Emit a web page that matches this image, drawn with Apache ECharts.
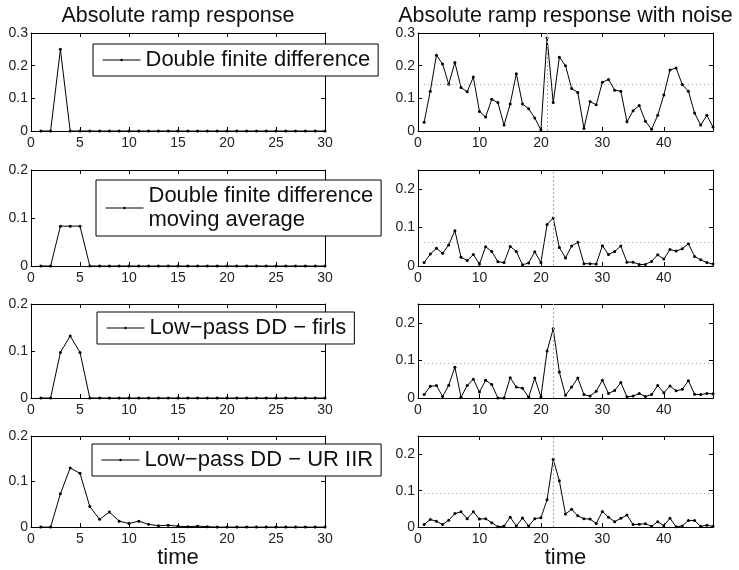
<!DOCTYPE html>
<html>
<head>
<meta charset="utf-8">
<script src="https://cdn.jsdelivr.net/npm/echarts@6/dist/echarts.min.js"></script>
<style>
  html, body { margin: 0; padding: 0; background: #fff; }
  #main { width: 739px; height: 570px; }
</style>
</head>
<body>
<div id="main"></div>
<script>
const FONT = '"Liberation Sans", Arial, sans-serif';

// clean ramp responses, time = 1..30
const ddClean = [0, 0, 0.25, 0, 0, 0, 0, 0, 0, 0, 0, 0, 0, 0, 0, 0, 0, 0, 0, 0, 0, 0, 0, 0, 0, 0, 0, 0, 0, 0];
const ddMaClean = [0, 0, 0.083, 0.083, 0.083, 0, 0, 0, 0, 0, 0, 0, 0, 0, 0, 0, 0, 0, 0, 0, 0, 0, 0, 0, 0, 0, 0, 0, 0, 0];
const firlsClean = [0, 0, 0.097, 0.132, 0.097, 0, 0, 0, 0, 0, 0, 0, 0, 0, 0, 0, 0, 0, 0, 0, 0, 0, 0, 0, 0, 0, 0, 0, 0, 0];
const iirClean = [0, 0, 0.073, 0.13, 0.118, 0.045, 0.017, 0.033, 0.013, 0.008, 0.013, 0.006, 0.003, 0.004, 0.002, 0.001, 0.002, 0.001, 0, 0, 0, 0, 0, 0, 0, 0, 0, 0, 0, 0];

// ramp responses with noise, time = 1..48
const ddNoise = [0.027, 0.122, 0.232, 0.205, 0.143, 0.21, 0.133, 0.12, 0.165, 0.06,
  0.043, 0.097, 0.087, 0.018, 0.083, 0.175, 0.083, 0.068, 0.04, 0.003,
  0.285, 0.087, 0.226, 0.2, 0.13, 0.118, 0.008, 0.09, 0.08, 0.149,
  0.158, 0.125, 0.122, 0.028, 0.062, 0.078, 0.03, 0.005, 0.048, 0.11,
  0.187, 0.193, 0.142, 0.122, 0.055, 0.018, 0.048, 0.012];
const ddMaNoise = [0.009, 0.031, 0.046, 0.033, 0.055, 0.092, 0.023, 0.014, 0.03, 0.005,
  0.05, 0.038, 0.011, 0.009, 0.051, 0.038, 0.003, 0.008, 0.037, 0.009,
  0.108, 0.125, 0.048, 0.021, 0.052, 0.062, 0.006, 0.006, 0.005, 0.053,
  0.03, 0.038, 0.052, 0.01, 0.01, 0.004, 0.004, 0.012, 0.029, 0.018,
  0.043, 0.039, 0.045, 0.058, 0.025, 0.016, 0.009, 0.005];
const firlsNoise = [0.009, 0.031, 0.033, 0.004, 0.034, 0.082, 0.002, 0.033, 0.05, 0.016,
  0.047, 0.036, 0, 0, 0.054, 0.029, 0.026, 0.002, 0.053, 0.003,
  0.125, 0.184, 0.069, 0.007, 0.029, 0.053, 0.009, 0.005, 0.018, 0.047,
  0.012, 0.02, 0.041, 0.003, 0.005, 0.012, 0.004, 0.009, 0.033, 0.014,
  0.032, 0.019, 0.023, 0.046, 0.01, 0.009, 0.012, 0.011];
const iirNoise = [0.007, 0.021, 0.016, 0.007, 0.019, 0.037, 0.042, 0.023, 0.042, 0.022,
  0.023, 0.012, 0.001, 0.003, 0.027, 0.003, 0.025, 0.003, 0.023, 0.026,
  0.075, 0.186, 0.127, 0.036, 0.049, 0.031, 0.023, 0.022, 0.01, 0.043,
  0.027, 0.015, 0.024, 0.033, 0.007, 0.008, 0.009, 0.002, 0.015, 0.004,
  0.024, 0.001, 0.003, 0.018, 0.018, 0.002, 0.005, 0.002];

const thresholds = [0.143, 0.062, 0.093, 0.093];
const peakTimes = [21, 22, 22, 22];

const cleanSeries = [ddClean, ddMaClean, firlsClean, iirClean];
const noiseSeries = [ddNoise, ddMaNoise, firlsNoise, iirNoise];
const legendNames = ['Double finite difference', 'Double finite difference\nmoving average',
  'Low\u2212pass DD \u2212 firls', 'Low\u2212pass DD \u2212 UR IIR'];
const titles = ['Absolute ramp response', 'Absolute ramp response with noise'];

// layout
const rowTop = [33, 170, 304, 436];
const rowHeight = [98, 96, 94, 96];
const colLeft = [31, 418];
const colWidth = [294, 295];
const legendPos = [[93, 44], [96, 180], [97, 312], [92, 444]];

const chart = echarts.init(document.getElementById('main'));

const grids = [], xAxes = [], yAxes = [], series = [], legends = [];

const axisLine = { show: true, onZero: false, lineStyle: { color: '#000', width: 1 } };
const tick = { show: true, inside: true, length: 4, lineStyle: { color: '#000' } };
const label = { color: '#222', fontSize: 14, fontFamily: FONT };

for (let r = 0; r < 4; r++) {
  for (let c = 0; c < 2; c++) {
    const g = grids.length;
    grids.push({ left: colLeft[c], top: rowTop[r], width: colWidth[c], height: rowHeight[r] });
    const xmax = c === 0 ? 30 : 48;
    const xint = c === 0 ? 5 : 10;
    const ymax = (r === 0) ? 0.3 : (c === 0 ? 0.2 : 0.25);
    const xBase = { type: 'value', gridIndex: g, min: 0, max: xmax, interval: xint, splitLine: { show: false }, axisLine, axisTick: tick };
    const yBase = { type: 'value', gridIndex: g, min: 0, max: ymax, interval: 0.1, splitLine: { show: false }, axisLine, axisTick: tick };
    xAxes.push(Object.assign({}, xBase, {
      position: 'bottom',
      axisLabel: Object.assign({ margin: 5, showMaxLabel: c === 0 }, label),
      name: r === 3 ? 'time' : '',
      nameLocation: 'middle',
      nameGap: 19,
      nameTextStyle: { fontSize: 22, fontFamily: FONT, color: '#111' }
    }));
    xAxes.push(Object.assign({}, xBase, { position: 'top', axisLabel: { show: false } }));
    yAxes.push(Object.assign({}, yBase, {
      position: 'left',
      axisLabel: Object.assign({ margin: 3, showMaxLabel: ymax !== 0.25 }, label)
    }));
    yAxes.push(Object.assign({}, yBase, { position: 'right', axisLabel: { show: false } }));

    const values = c === 0 ? cleanSeries[r] : noiseSeries[r];
    const s = {
      type: 'line',
      name: c === 0 ? legendNames[r] : 'noisy ' + (r + 1),
      xAxisIndex: 2 * g,
      yAxisIndex: 2 * g,
      data: values.map((v, i) => [i + 1, v]),
      symbol: 'circle',
      symbolSize: 3,
      showSymbol: true,
      lineStyle: { color: '#000', width: 1 },
      itemStyle: { color: '#000' },
      emphasis: { disabled: true }
    };
    if (c === 1) {
      s.markLine = {
        silent: true,
        symbol: 'none',
        label: { show: false },
        animation: false,
        data: [
          [{ coord: [1, thresholds[r]], lineStyle: { color: '#999', width: 1, type: [1, 3] } },
           { coord: [48, thresholds[r]] }],
          { xAxis: peakTimes[r], lineStyle: { color: '#aaa', width: 1, type: [2, 2] } }
        ]
      };
    } else {
      legends.push({
        data: [legendNames[r]],
        left: legendPos[r][0],
        top: legendPos[r][1],
        orient: 'vertical',
        backgroundColor: '#fff',
        borderColor: '#000',
        borderWidth: 1,
        borderRadius: 0,
        padding: [4, 8, 4, 9],
        itemWidth: 38,
        itemHeight: 3,
        selectedMode: false,
        lineStyle: { width: 1, color: '#000' },
        itemStyle: { color: '#000', borderWidth: 0 },
        textStyle: { fontSize: 22, fontFamily: FONT, color: '#111', lineHeight: 24 }
      });
    }
    series.push(s);
  }
}

chart.setOption({
  animation: false,
  backgroundColor: '#fff',
  title: titles.map((t, c) => ({
    text: t,
    left: colLeft[c] + colWidth[c] / 2,
    textAlign: 'center',
    top: 5,
    padding: 0,
    textStyle: { fontSize: 21.5, fontWeight: 'normal', fontFamily: FONT, color: '#111' }
  })),
  legend: legends,
  grid: grids,
  xAxis: xAxes,
  yAxis: yAxes,
  series: series
});
</script>
</body>
</html>
